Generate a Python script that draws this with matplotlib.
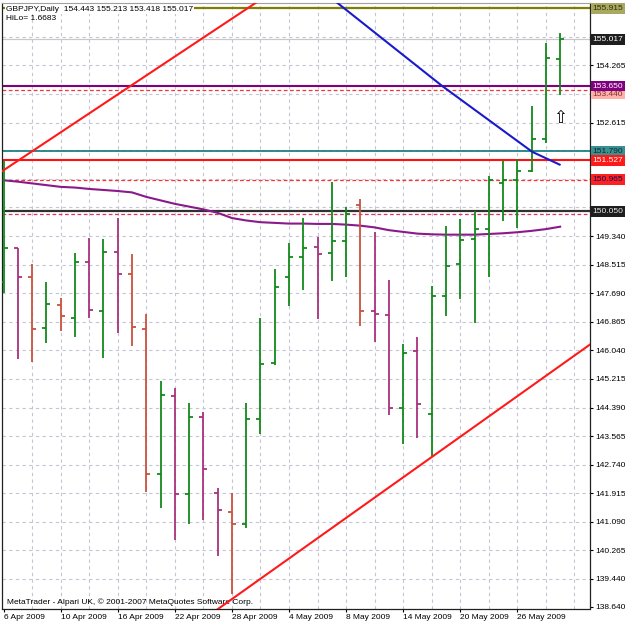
import numpy as np
import matplotlib
matplotlib.use("Agg")
import matplotlib.pyplot as plt
from matplotlib.transforms import blended_transform_factory
from matplotlib.patches import Rectangle

# ---------------- data ----------------
dates = ["6 Apr 2009", "10 Apr 2009", "16 Apr 2009", "22 Apr 2009", "28 Apr 2009",
         "4 May 2009", "8 May 2009", "14 May 2009", "20 May 2009", "26 May 2009"]
date_bars = [0, 4, 8, 12, 16, 20, 24, 28, 32, 36]

opens = [148.00, 149.00, 148.15, 146.68, 147.35, 146.97, 148.60, 147.19, 148.89, 148.24,
         146.65, 142.47, 144.73, 141.88, 144.12, 141.93, 141.38, 141.03, 144.05, 145.67,
         148.15, 148.74, 149.03, 148.84, 149.20, 150.24, 147.19, 147.06, 144.38, 146.03,
         144.20, 147.61, 148.53, 149.25, 149.54, 150.86, 150.96, 151.22, 152.13, 154.443]
highs = [151.52, 149.00, 148.52, 148.00, 147.54, 148.84, 149.28, 149.25, 149.85, 148.81,
         147.08, 145.16, 144.96, 144.53, 144.27, 142.06, 141.93, 144.53, 146.97, 148.38,
         149.15, 149.87, 149.30, 150.91, 150.17, 150.40, 149.47, 148.07, 146.22, 146.43,
         147.90, 149.63, 149.83, 150.07, 151.07, 151.51, 151.56, 153.09, 154.90, 155.213]
lows = [147.70, 145.78, 145.70, 146.26, 146.60, 146.43, 146.97, 145.81, 146.55, 146.17,
        141.96, 141.50, 140.57, 141.03, 141.14, 140.11, 139.01, 140.90, 143.62, 145.62,
        147.32, 147.78, 146.94, 148.05, 148.17, 146.74, 146.29, 144.17, 143.34, 143.52,
        142.99, 147.03, 147.51, 146.84, 148.15, 149.78, 149.56, 151.20, 152.03, 153.418]
closes = [149.00, 148.17, 146.65, 147.38, 147.03, 148.60, 147.21, 148.89, 148.24, 146.71,
          142.47, 144.75, 141.88, 144.12, 142.61, 141.43, 141.03, 144.05, 145.64, 147.86,
          148.74, 148.99, 148.82, 149.20, 149.97, 147.19, 147.09, 144.38, 145.97, 144.49,
          147.61, 148.48, 149.23, 149.54, 150.96, 150.96, 151.22, 152.13, 154.47, 155.017]

ma_values = [150.95, 150.91, 150.86, 150.81, 150.76, 150.74, 150.70, 150.67, 150.64, 150.60,
             150.47, 150.37, 150.27, 150.19, 150.11, 150.01, 149.86, 149.79, 149.74, 149.72,
             149.70, 149.70, 149.69, 149.69, 149.67, 149.64, 149.59, 149.51, 149.46, 149.41,
             149.39, 149.38, 149.38, 149.38, 149.40, 149.42, 149.45, 149.49, 149.54, 149.61]

grid_prices = [139.440, 140.265, 141.090, 141.915, 142.740, 143.565, 144.390, 145.215,
               146.040, 146.865, 147.690, 148.515, 149.340, 150.165, 150.990, 151.815,
               152.615, 153.440, 154.265, 155.090, 155.915]
shown_tick_labels = ["138.640", "139.440", "140.265", "141.090", "141.915", "142.740", "143.565",
                     "144.390", "145.215", "146.040", "146.865", "147.690", "148.515",
                     "149.340", "152.615", "154.265"]

# trend lines as (bar, price) anchors
upper_red = [(0.0, 151.24), (17.66, 156.07)]
lower_red = [(16.0, 138.86), (30.0, 142.96)]
blue_line_bars = [23.27, 30.74, 37.05, 39.03]
blue_line_prices = [156.11, 153.67, 151.77, 151.39]

hline_prices = {"olive": 155.915, "bid": 155.017, "purple": 153.67, "red_dash1": 153.55,
                "teal": 151.79, "red": 151.527, "red_dash2": 150.965, "black": 150.05,
                "red_dash3": 149.97}

header = "GBPJPY,Daily  154.443 155.213 153.418 155.017"
hilo = "HiLo= 1.6683"
footer = "MetaTrader - Alpari UK, \u00a9 2001-2007 MetaQuotes Software Corp."

# ---------------- layout ----------------
W = H = 625
plt.rcParams['font.family'] = ['Liberation Sans', 'DejaVu Sans']
fig = plt.figure(figsize=(W / 100, H / 100), dpi=100)
left_px, right_px, top_px, bottom_px = 2.0, 590.0, 3.0, 608.5
ax = fig.add_axes([left_px / W, 1 - bottom_px / H, (right_px - left_px) / W, (bottom_px - top_px) / H])

bar_px = 14.27
x0_px = 3.6
ax.set_xlim((left_px - x0_px) / bar_px, (right_px - x0_px) / bar_px)
ppu = 34.64
y_ref_px, y_ref_p = 606.7, 138.64
ax.set_ylim(y_ref_p - (bottom_px - y_ref_px) / ppu, y_ref_p + (y_ref_px - top_px) / ppu)
xl = ax.get_xlim()
yl = ax.get_ylim()

# grid
gcol = "#c4c6d6"
for gp in grid_prices:
    ax.axhline(gp, color=gcol, lw=0.8, dashes=(3, 3), zorder=1)
for b in range(2, 42, 2):
    ax.axvline(b, color=gcol, lw=0.8, dashes=(3, 3), zorder=1)

# horizontal object lines
ax.axhline(hline_prices["olive"], color="#808000", lw=1.6, zorder=2)
ax.axhline(hline_prices["bid"], color="#c8c8c8", lw=0.9, zorder=2)
ax.axhline(hline_prices["purple"], color="#800080", lw=1.5, zorder=2)
ax.axhline(hline_prices["red_dash1"], color="#ff3030", lw=0.9, dashes=(3, 2), zorder=2)
ax.axhline(hline_prices["teal"], color="#208080", lw=1.3, zorder=2)
ax.axhline(hline_prices["red"], color="#ff1010", lw=1.5, zorder=2)
ax.axhline(hline_prices["red_dash2"], color="#ff3030", lw=0.9, dashes=(3, 2), zorder=2)
ax.axhline(hline_prices["black"], color="#303030", lw=1.6, zorder=2)
ax.axhline(hline_prices["red_dash3"], color="#e03060", lw=0.9, dashes=(3, 2), zorder=2)

# moving average
bars_idx = np.arange(len(opens))
ax.plot(bars_idx, ma_values, color="#8a1a8a", lw=1.5, zorder=3)

# OHLC bars
up_col = "#12891a"
down_col = "#a8327c"
orange_col = "#c8523e"
orange_bars = {2, 4, 9, 10, 16, 25}
tick = 4.0 / bar_px
for i in bars_idx:
    o, h, l, c = opens[i], highs[i], lows[i], closes[i]
    if c >= o:
        col = up_col
    else:
        col = orange_col if i in orange_bars else down_col
    ax.vlines(i, l, h, color=col, lw=1.3, zorder=4)
    ax.hlines(o, i - tick, i, color=col, lw=1.3, zorder=4)
    ax.hlines(c, i, i + tick, color=col, lw=1.3, zorder=4)

# trend lines
def extend(p0, p1, xa, xb):
    s = (p1[1] - p0[1]) / (p1[0] - p0[0])
    return [xa, xb], [p0[1] + s * (xa - p0[0]), p0[1] + s * (xb - p0[0])]

xs, ys = extend(upper_red[0], upper_red[1], xl[0] - 1, 22)
ax.plot(xs, ys, color="#ff1a1a", lw=1.5, zorder=5, solid_capstyle="butt")
xs, ys = extend(lower_red[0], lower_red[1], 13, xl[1] + 1)
ax.plot(xs, ys, color="#ff1a1a", lw=1.5, zorder=5, solid_capstyle="butt")
ax.plot(blue_line_bars, blue_line_prices, color="#1a1acc", lw=1.5, zorder=5, solid_capstyle="butt")

# arrow
ax.text(39.0, 152.74, "\u21e7", fontsize=12, ha="center", va="center",
        family=["DejaVu Sans"], color="black", zorder=6)

# axes styling
for side in ["left", "right", "bottom"]:
    ax.spines[side].set_color("#202020")
    ax.spines[side].set_linewidth(0.9)
ax.spines["top"].set_color("#a0a0a0")
ax.spines["top"].set_linewidth(0.8)

ax.set_xticks(date_bars)
ax.set_xticklabels(dates, ha="left", fontsize=6)
ax.tick_params(axis="x", length=2.5, width=0.8, pad=1.5, direction="out")

ax.yaxis.tick_right()
ytick_vals = [float(s) for s in shown_tick_labels]
ax.set_yticks(ytick_vals)
ax.set_yticklabels(shown_tick_labels, fontsize=6)
ax.tick_params(axis="y", length=2.5, width=0.8, pad=1.5, direction="out")

# colored price labels on the right
trans = blended_transform_factory(ax.transAxes, ax.transData)
lx = 1.0 + 2.5 / (right_px - left_px)

def plabel(price, text, fc, tc, z):
    ax.text(lx, price, text, transform=trans, fontsize=6, ha="left", va="center", color=tc,
            bbox=dict(boxstyle="square,pad=0.22", fc=fc, ec="none"), zorder=z, clip_on=False)

plabel(155.915, "155.915", "#a8a860", "#303010", 10)
plabel(155.017, "155.017", "#1e1e1e", "white", 10)
plabel(153.44, "153.440", "#ffb0a8", "#803030", 9)
plabel(153.67, "153.650", "#800080", "white", 10)
plabel(151.79, "151.790", "#3a9090", "#102828", 9)
plabel(151.527, "151.527", "#ff1a1a", "white", 10)
plabel(150.965, "150.965", "#ff2020", "#101060", 10)
plabel(150.05, "150.050", "#1e1e1e", "#e8e8e8", 10)
# partially hidden magenta label strip under the black one
ax.add_patch(Rectangle((1.0 + 1.0 / (right_px - left_px), 149.895), 34.0 / (right_px - left_px), 0.07,
                       transform=trans, fc="#c83c8c", ec="none", zorder=9, clip_on=False))

# header / footer text
fig.text(6 / W, 1 - 9.3 / H, header, fontsize=6, ha="left", va="center", color="black",
         bbox=dict(boxstyle="square,pad=0.1", fc="white", ec="none"), zorder=20)
fig.text(6 / W, 1 - 19 / H, hilo, fontsize=6, ha="left", va="center", color="black", zorder=20)
ax.text(5 / (right_px - left_px), 1 - (601.8 - top_px) / (bottom_px - top_px), footer,
        transform=ax.transAxes, fontsize=6, ha="left", va="center", color="black", zorder=4.5)

fig.savefig("out.png", dpi=100, facecolor="white")
